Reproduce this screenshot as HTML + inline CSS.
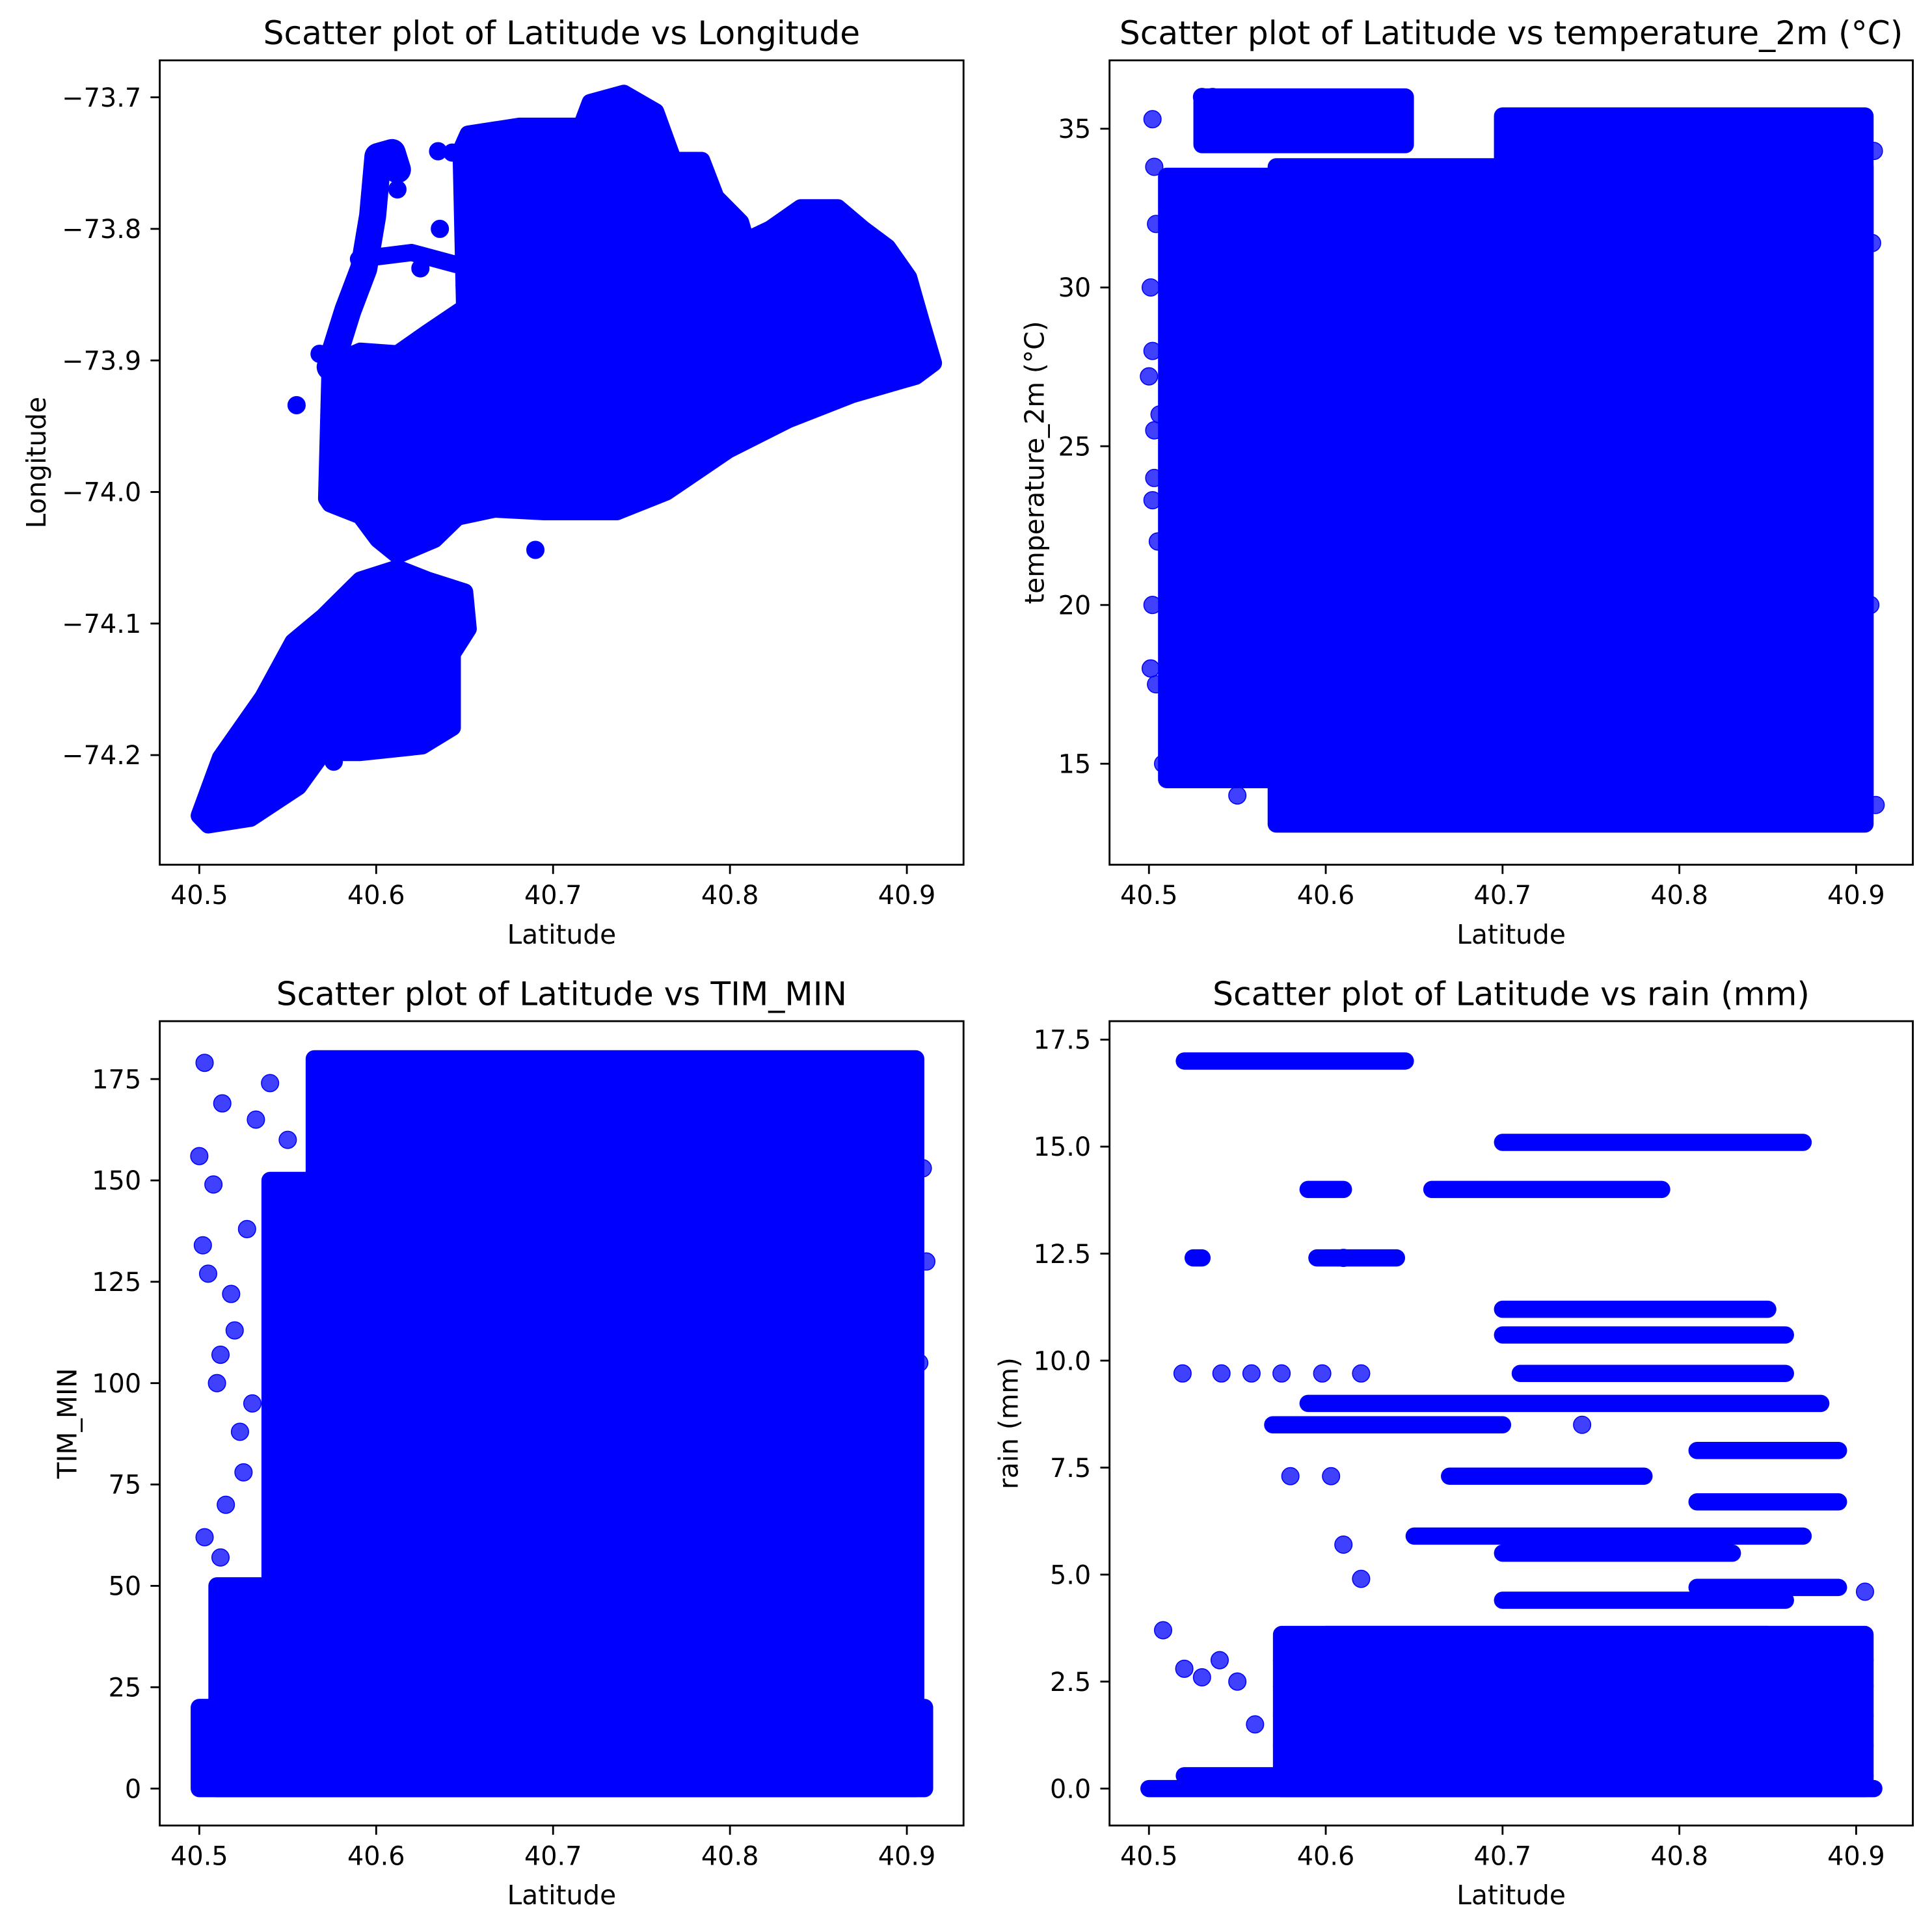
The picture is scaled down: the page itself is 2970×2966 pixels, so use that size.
<!DOCTYPE html>
<html><head><meta charset="utf-8"><style>
html,body{margin:0;padding:0;background:#fff}
svg{display:block}
text{font-family:"DejaVu Sans","Liberation Sans",sans-serif;fill:#000}
</style></head><body>
<svg id="fig" width="2970" height="2966" viewBox="0 0 1568 1566" xmlns="http://www.w3.org/2000/svg"></svg>
<script>
// ---------- DATA ----------
const p1MainLat=[40.572,40.574,40.591,40.612,40.629,40.650,40.648,40.652,40.681,40.716,40.721,40.740,40.758,40.768,40.784,40.792,40.806,40.809,40.823,40.840,40.861,40.875,40.889,40.901,40.908,40.915,40.905,40.869,40.833,40.799,40.764,40.736,40.695,40.667,40.646,40.633,40.612,40.601,40.591,40.574];
const p1MainLon=[-74.005,-73.903,-73.893,-73.895,-73.879,-73.860,-73.740,-73.728,-73.722,-73.722,-73.704,-73.697,-73.711,-73.748,-73.748,-73.776,-73.795,-73.809,-73.800,-73.784,-73.784,-73.800,-73.814,-73.837,-73.870,-73.902,-73.912,-73.926,-73.945,-73.968,-74.000,-74.015,-74.015,-74.013,-74.019,-74.036,-74.048,-74.036,-74.018,-74.009];
const p1SILat=[40.500,40.512,40.536,40.553,40.570,40.591,40.612,40.629,40.650,40.652,40.643,40.643,40.626,40.591,40.570,40.556,40.529,40.505];
const p1SILon=[-74.246,-74.202,-74.156,-74.114,-74.095,-74.067,-74.058,-74.067,-74.076,-74.104,-74.123,-74.179,-74.193,-74.198,-74.198,-74.224,-74.248,-74.253];
const p1StripLat=[40.574,40.584,40.593,40.598,40.601,40.609,40.612];
const p1StripLon=[-73.905,-73.862,-73.830,-73.790,-73.745,-73.742,-73.755];
const p1Strip2Lat=[40.590,40.620,40.645];
const p1Strip2Lon=[-73.823,-73.818,-73.827];
const p1PtLat=[40.690,40.555,40.568,40.650,40.625,40.643,40.635,40.576,40.612,40.636];
const p1PtLon=[-74.044,-73.934,-73.895,-73.843,-73.830,-73.742,-73.741,-74.205,-73.770,-73.800];

const p2Rects=[[40.572,40.905,13.1,33.8],[40.70,40.905,13.5,35.4],[40.51,40.572,14.5,33.5],[40.53,40.645,34.5,36]];
const p2PtLat=[40.502,40.503,40.504,40.501,40.502,40.506,40.503,40.505,40.502,40.501,40.504,40.508,40.513,40.520,40.540,40.550,40.512,40.503,40.502,40.500,40.530,40.536,40.909,40.910,40.911,40.908];
const p2PtVal=[35.3,33.8,32.0,30.0,28.0,26.0,24.0,22.0,20.0,18.0,17.5,15.0,15.5,16.0,15.0,14.0,20.5,25.5,23.3,27.2,36.0,36.0,31.4,34.3,13.7,20.0];

const p3Rects=[[40.565,40.905,0,180],[40.50,40.91,0,20],[40.51,40.565,0,50],[40.54,40.565,50,150]];
const p3PtLat=[40.503,40.500,40.502,40.513,40.508,40.505,40.512,40.510,40.520,40.523,40.525,40.527,40.532,40.540,40.518,40.515,40.530,40.545,40.550,40.503,40.512,40.520,40.909,40.911,40.907];
const p3PtVal=[179,156,134,169,149,127,107,100,113,88,78,138,165,174,122,70,95,140,160,62,57,43,153,130,105];

const p4Rows=[[40.52,40.645,17.0],[40.70,40.87,15.1],[40.59,40.61,14.0],[40.66,40.79,14.0],[40.525,40.53,12.4],[40.595,40.64,12.4],[40.70,40.85,11.2],[40.70,40.86,10.6],[40.71,40.86,9.7],[40.59,40.88,9.0],[40.57,40.70,8.5],[40.81,40.89,7.9],[40.67,40.78,7.3],[40.81,40.89,6.7],[40.65,40.87,5.9],[40.70,40.83,5.5],[40.81,40.89,4.7],[40.70,40.86,4.4],[40.50,40.91,0.0],[40.52,40.575,0.3],[40.575,40.905,0.3],[40.575,40.905,1.0],[40.575,40.905,1.7],[40.575,40.905,2.4],[40.575,40.905,3.0],[40.60,40.85,3.6]];
const p4PtLat=[40.519,40.541,40.558,40.575,40.598,40.61,40.62,40.508,40.52,40.53,40.54,40.55,40.56,40.62,40.58,40.603,40.61,40.745,40.90,40.905];
const p4PtVal=[9.7,9.7,9.7,9.7,9.7,12.4,4.9,3.7,2.8,2.6,3.0,2.5,1.5,9.7,7.3,7.3,5.7,8.5,3.0,4.6];

const xTicks=[40.5,40.6,40.7,40.8,40.9];
const xTickLabels=["40.5","40.6","40.7","40.8","40.9"];
const p1YTicks=[-73.7,-73.8,-73.9,-74.0,-74.1,-74.2];
const p1YLabels=["\u221273.7","\u221273.8","\u221273.9","\u221274.0","\u221274.1","\u221274.2"];
const p2YTicks=[15,20,25,30,35];
const p3YTicks=[0,25,50,75,100,125,150,175];
const p4YTicks=[0,2.5,5,7.5,10,12.5,15,17.5];
const p4YLabels=["0.0","2.5","5.0","7.5","10.0","12.5","15.0","17.5"];

// ---------- RENDER ----------
const NS="http://www.w3.org/2000/svg";
const svg=document.getElementById('fig');
const BLUE="#0000ff", R=7, FT=21, FL=21.5, FTT=26.5;
function el(tag,attrs,parent,txt){const e=document.createElementNS(NS,tag);for(const k in attrs)e.setAttribute(k,attrs[k]);if(txt!==undefined)e.textContent=txt;(parent||svg).appendChild(e);return e;}
function makeAxes(cfg){
  const g=el('g',{});
  
  
  const sx=v=>cfg.x0+(v-cfg.xa)/(cfg.xb-cfg.xa)*(cfg.x1-cfg.x0);
  const sy=v=>cfg.y0+(v-cfg.ya)/(cfg.yb-cfg.ya)*(cfg.y1-cfg.y0);
  const marks=el('g',{fill:BLUE,stroke:BLUE},g);
  
  
  return {g,sx,sy,marks};
}
function frame(A,cfg,yTicks,yLabels,title,ylabel){
  const g=A.g;
  const L=cfg.L,T=cfg.T,Rr=cfg.Rr,B=cfg.B;
  const box=el('rect',{x:L,y:T,width:Rr-L,height:B-T,fill:'none',stroke:'#000','stroke-width':1.5},g);
  
  
  xTicks.forEach((v,i)=>{const x=A.sx(v);
    el('line',{x1:x,x2:x,y1:B,y2:B+7.5,stroke:'#000','stroke-width':1.5},g);
    const t=el('text',{x:x,y:B+32,'text-anchor':'middle','font-size':FT},g,xTickLabels[i]);
    
    });
  yTicks.forEach((v,i)=>{const y=A.sy(v);
    el('line',{x1:L-7.5,x2:L,y1:y,y2:y,stroke:'#000','stroke-width':1.5},g);
    const t=el('text',{x:L-15,y:y+7.5,'text-anchor':'end','font-size':FT},g,yLabels[i]);
    
    });
  const tt=el('text',{x:(L+Rr)/2,y:T-13,'text-anchor':'middle','font-size':FTT},g,title);
  
  
  const xl=el('text',{x:(L+Rr)/2,y:B+64,'text-anchor':'middle','font-size':FL},g,'Latitude');
  
  
  const yx=cfg.ylx, yy=(T+B)/2;
  const yl=el('text',{x:yx,y:yy,'text-anchor':'middle','font-size':FL,transform:`rotate(-90 ${yx} ${yy})`},g,ylabel);
  
  
}
function rects(A,list){list.forEach(r=>{const x0=A.sx(r[0]),x1=A.sx(r[1]),y0=A.sy(r[3]),y1=A.sy(r[2]);
  const e=el('rect',{x:x0-R,y:y0-R,width:x1-x0+2*R,height:y1-y0+2*R,rx:R,'stroke-width':0},A.marks);
  
  });}
function pts(A,xs,ys,op){xs.forEach((v,i)=>{const e=el('circle',{cx:A.sx(v),cy:A.sy(ys[i]),r:R,'fill-opacity':op||0.75,'stroke-width':0.8},A.marks);
  
  });}
function poly(A,xs,ys,fill,name,w){const d=xs.map((v,i)=>A.sx(v)+','+A.sy(ys[i])).join(' ');
  const e=el(fill?'polygon':'polyline',{points:d,'stroke-width':w||2*R,'stroke-linejoin':'round','stroke-linecap':'round',fill:fill?BLUE:'none'},A.marks);
  
  }

const c1={name:'latitude-vs-longitude-chart',L:129.6,Rr:782,T:49,B:702,x0:161.7,x1:736,xa:40.5,xb:40.9,y0:79,y1:613,ya:-73.7,yb:-74.2,ylx:37};
const A1=makeAxes(c1);
poly(A1,p1MainLat,p1MainLon,true,'main-boroughs-cluster');
poly(A1,p1SILat,p1SILon,true,'staten-island-cluster');
poly(A1,p1StripLat,p1StripLon,false,'manhattan-strip',22);
poly(A1,p1Strip2Lat,p1Strip2Lon,false,'bridge-strip');
pts(A1,p1PtLat,p1PtLon,1);
frame(A1,c1,p1YTicks,p1YLabels,'Scatter plot of Latitude vs Longitude','Longitude');

const c2={name:'latitude-vs-temperature-chart',L:900.5,Rr:1552.5,T:49,B:702,x0:932.5,x1:1506.5,xa:40.5,xb:40.9,y0:620,y1:104.5,ya:15,yb:35,ylx:847};
const A2=makeAxes(c2);
rects(A2,p2Rects);pts(A2,p2PtLat,p2PtVal);
frame(A2,c2,p2YTicks,p2YTicks.map(String),'Scatter plot of Latitude vs temperature_2m (\u00b0C)','temperature_2m (\u00b0C)');

const c3={name:'latitude-vs-tim-min-chart',L:129.6,Rr:782,T:829,B:1482,x0:161.7,x1:736,xa:40.5,xb:40.9,y0:1452,y1:876,ya:0,yb:175,ylx:62};
const A3=makeAxes(c3);
rects(A3,p3Rects);pts(A3,p3PtLat,p3PtVal);
frame(A3,c3,p3YTicks,p3YTicks.map(String),'Scatter plot of Latitude vs TIM_MIN','TIM_MIN');

const c4={name:'latitude-vs-rain-chart',L:900.5,Rr:1552.5,T:829,B:1482,x0:932.5,x1:1506.5,xa:40.5,xb:40.9,y0:1452,y1:844,ya:0,yb:17.5,ylx:826};
const A4=makeAxes(c4);
rects(A4,[[40.575,40.905,0,3.6]]);
p4Rows.forEach(r=>rects(A4,[[r[0],r[1],r[2],r[2]]]));
pts(A4,p4PtLat,p4PtVal);
frame(A4,c4,p4YTicks,p4YLabels,'Scatter plot of Latitude vs rain (mm)','rain (mm)');
</script>
</body></html>
